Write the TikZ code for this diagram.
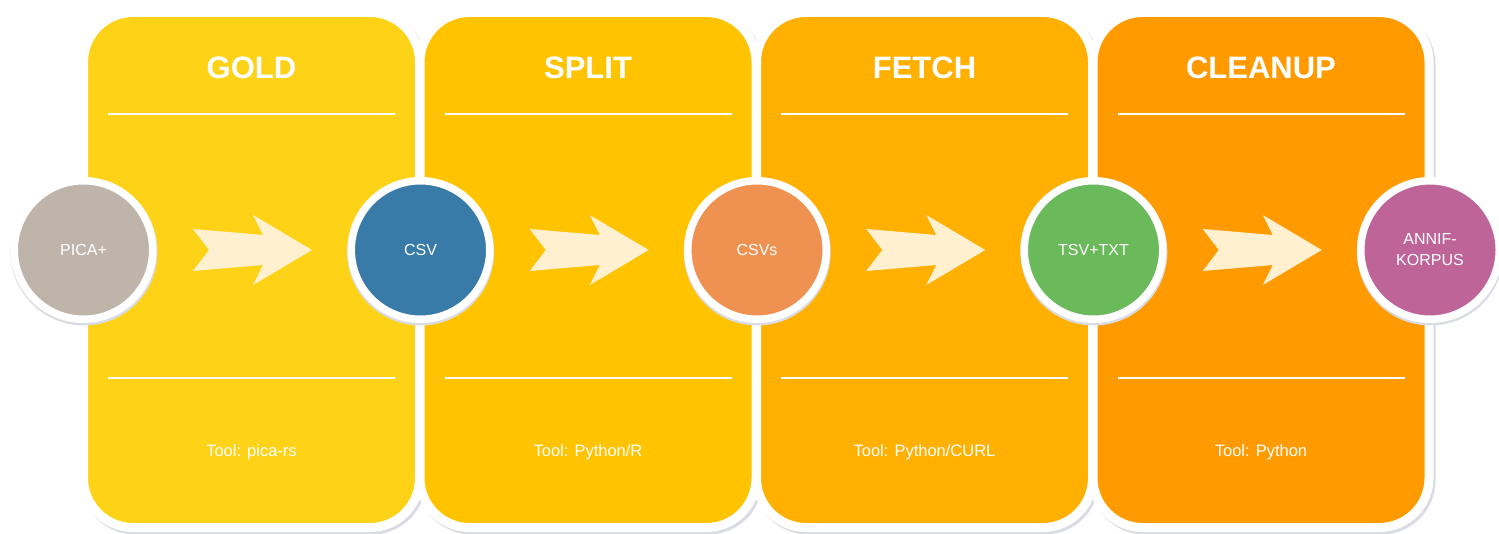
\documentclass[tikz,border=0pt]{standalone}
\usepackage{fontspec}
\setmainfont{Liberation Sans}
\usetikzlibrary{calc}
\definecolor{pA}{HTML}{FDD217}
\definecolor{pB}{HTML}{FFC300}
\definecolor{pC}{HTML}{FFB000}
\definecolor{pD}{HTML}{FF9B00}
\definecolor{cGrey}{HTML}{BFB4AA}
\definecolor{cBlue}{HTML}{387BA8}
\definecolor{cOrange}{HTML}{EF9251}
\definecolor{cGreen}{HTML}{6AB95B}
\definecolor{cPurple}{HTML}{BE6499}
\definecolor{arrowfill}{HTML}{FFF1D0}
\definecolor{shadowc}{HTML}{DADCE4}
\tikzset{
  panelbox/.style={draw=white, line width=9pt, rectangle, rounded corners=49.5pt,
    minimum width=336pt, minimum height=515pt, inner sep=0pt},
  stagecircle/.style={draw=white, line width=7.5pt, circle, minimum size=138.5pt,
    inner sep=0pt, text=white, font=\fontsize{16}{22}\selectfont, align=center},
  titletext/.style={text=white, font=\fontsize{31}{37}\selectfont\bfseries, inner sep=0pt},
  tooltext/.style={text=white, font=\fontsize{16.5}{20}\selectfont, inner sep=0pt, anchor=base},
  sepline/.style={draw=white, line width=2.5pt},
  flowarrow/.style={fill=arrowfill}
}
\begin{document}
\begin{tikzpicture}[x=1pt,y=-1pt]
\useasboundingbox (0,0) rectangle (1499,534);
% shadows of panels
\foreach \i in {0,...,3}{
  \pgfmathsetmacro{\cx}{251.5+336.5*\i}
  \fill[shadowc, rounded corners=54pt] (\cx-172.5+2,8+2.5) rectangle (\cx+172.5+2,532+2.5);
}
% panels
\node[panelbox, fill=pA] (p1) at (251.5,270) {};
\node[panelbox, fill=pB] (p2) at (588,270) {};
\node[panelbox, fill=pC] (p3) at (924.5,270) {};
\node[panelbox, fill=pD] (p4) at (1261,270) {};
% titles
\node[titletext] (t1) at (251.5,68) {GOLD};
\node[titletext] (t2) at (588,68) {SPLIT};
\node[titletext] (t3) at (924.5,68) {FETCH};
\node[titletext] (t4) at (1261,68) {CLEANUP};
% separator lines and tool texts
\foreach \n in {1,...,4}{
  \draw[sepline] ($(p\n.center)+(-143.5,-156)$) -- ($(p\n.center)+(143.5,-156)$);
  \draw[sepline] ($(p\n.center)+(-143.5,108)$) -- ($(p\n.center)+(143.5,108)$);
}
\node[tooltext] (tool1) at (251.5,456) {Tool: pica-rs};
\node[tooltext] (tool2) at (588,456) {Tool: Python/R};
\node[tooltext] (tool3) at (924.5,456) {Tool: Python/CURL};
\node[tooltext] (tool4) at (1261,456) {Tool: Python};
% circle shadows
\foreach \i in {0,...,4}{
  \pgfmathsetmacro{\cx}{83.5+336.6*\i}
  \fill[shadowc] (\cx+0.5,252) circle (73.5pt);
}
% circles
\node[stagecircle, fill=cGrey] (c0) at (83.5,250) {PICA+};
\node[stagecircle, fill=cBlue] (c1) at (420.5,250) {CSV};
\node[stagecircle, fill=cOrange] (c2) at (757,250) {CSVs};
\node[stagecircle, fill=cGreen] (c3) at (1093.5,250) {TSV+TXT};
\node[stagecircle, fill=cPurple] (c4) at (1430,250) {ANNIF-\\[-1pt]KORPUS};
% arrows between circles
\foreach \a/\b in {c0/c1,c1/c2,c2/c3,c3/c4}{
  \coordinate (m) at ($(\a)!0.5!(\b)$);
  \fill[flowarrow] ($(m)+(-59,-21)$) -- ($(m)+(11,-15)$) -- ($(m)+(1,-35)$) -- ($(m)+(60,0)$)
    -- ($(m)+(1,35)$) -- ($(m)+(11,15)$) -- ($(m)+(-59,21)$) -- ($(m)+(-43,0)$) -- cycle;
}
\end{tikzpicture}
\end{document}
